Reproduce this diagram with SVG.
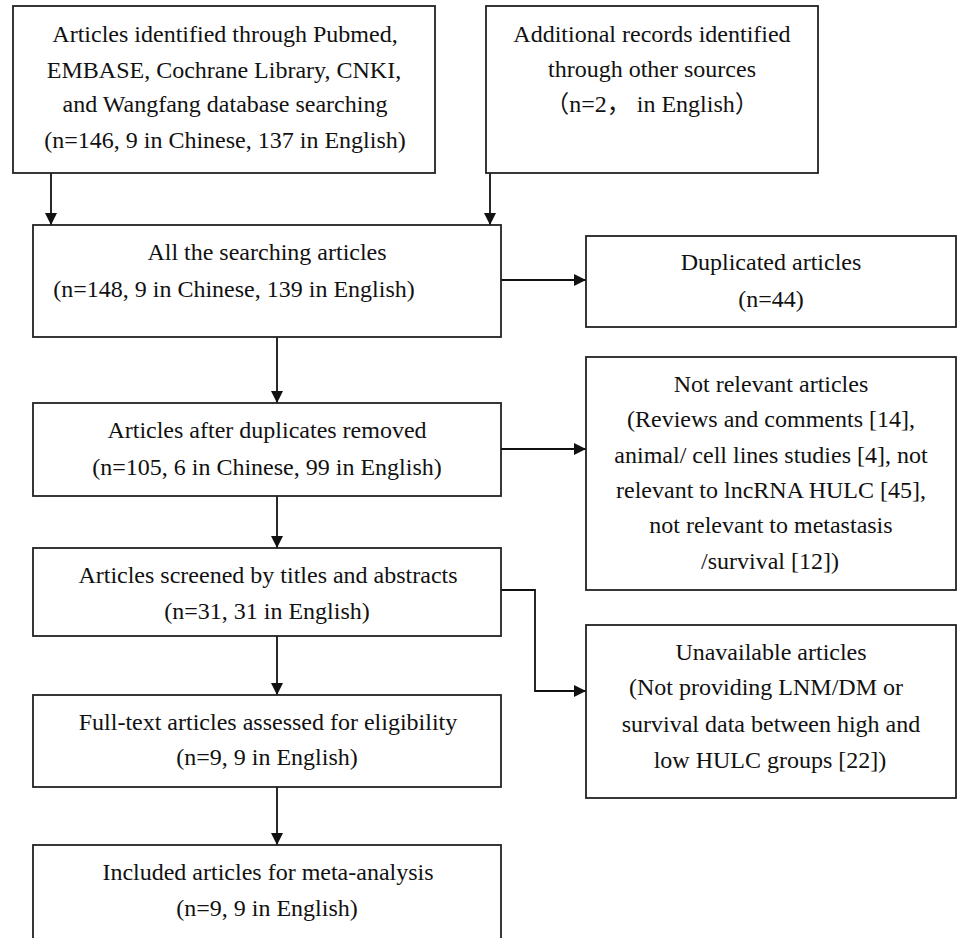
<svg xmlns="http://www.w3.org/2000/svg" width="958" height="938" viewBox="0 0 958 938">
<style>
.box{fill:#fff;stroke:#222;stroke-width:1.8}
.t{font-family:"Liberation Serif","Noto Sans CJK SC",serif;font-size:24px;fill:#111;text-anchor:middle}
.c{fill:none;stroke:#111;stroke-width:1.8}
</style>
<defs>
<marker id="ah" viewBox="0 0 12 12" refX="12" refY="6" markerWidth="12" markerHeight="12" markerUnits="userSpaceOnUse" orient="auto">
<path d="M0,0 L12,6 L0,12 Z" fill="#111"/>
</marker>
</defs>
<rect width="958" height="938" fill="#fff"/>
<g id="connectors">
<path class="c" d="M51,173 V225" marker-end="url(#ah)"/>
<path class="c" d="M490,173 V225" marker-end="url(#ah)"/>
<path class="c" d="M501,280 H586" marker-end="url(#ah)"/>
<path class="c" d="M277,337 V403" marker-end="url(#ah)"/>
<path class="c" d="M501,449 H586" marker-end="url(#ah)"/>
<path class="c" d="M277,496 V548" marker-end="url(#ah)"/>
<path class="c" d="M501,590 H535 V691 H586" marker-end="url(#ah)"/>
<path class="c" d="M277,636 V695" marker-end="url(#ah)"/>
<path class="c" d="M277,787 V845" marker-end="url(#ah)"/>
</g>
<g id="n1">
<rect class="box" x="13" y="6" width="422" height="167"/>
<text class="t" x="225" y="42">Articles identified through Pubmed,</text>
<text class="t" x="224" y="78">EMBASE, Cochrane Library, CNKI,</text>
<text class="t" x="225" y="112">and Wangfang database searching</text>
<text class="t" x="225" y="148">(n=146, 9 in Chinese, 137 in English)</text>
</g>
<g id="n2">
<rect class="box" x="486" y="6" width="332" height="167"/>
<text class="t" x="652" y="42">Additional records identified</text>
<text class="t" x="652" y="77">through other sources</text>
<text class="t" x="652" y="112">（n=2， in English）</text>
</g>
<g id="n3">
<rect class="box" x="33" y="225" width="468" height="112"/>
<text class="t" x="267" y="260">All the searching articles</text>
<text class="t" x="234" y="297">(n=148, 9 in Chinese, 139 in English)</text>
</g>
<g id="n4">
<rect class="box" x="586" y="236" width="370" height="91"/>
<text class="t" x="771" y="270">Duplicated articles</text>
<text class="t" x="771" y="307">(n=44)</text>
</g>
<g id="n5">
<rect class="box" x="33" y="403" width="468" height="93"/>
<text class="t" x="267" y="438">Articles after duplicates removed</text>
<text class="t" x="267" y="475">(n=105, 6 in Chinese, 99 in English)</text>
</g>
<g id="n6">
<rect class="box" x="586" y="357" width="370" height="233"/>
<text class="t" x="771" y="392">Not relevant articles</text>
<text class="t" x="771" y="427">(Reviews and comments [14],</text>
<text class="t" x="771" y="463">animal/ cell lines studies [4], not</text>
<text class="t" x="771" y="498">relevant to lncRNA HULC [45],</text>
<text class="t" x="771" y="533">not relevant to metastasis</text>
<text class="t" x="770" y="569">/survival [12])</text>
</g>
<g id="n7">
<rect class="box" x="33" y="548" width="468" height="88"/>
<text class="t" x="268" y="583">Articles screened by titles and abstracts</text>
<text class="t" x="267" y="619">(n=31, 31 in English)</text>
</g>
<g id="n8">
<rect class="box" x="586" y="625" width="370" height="173"/>
<text class="t" x="771" y="660">Unavailable articles</text>
<text class="t" x="766" y="695">(Not providing LNM/DM or</text>
<text class="t" x="771" y="732">survival data between high and</text>
<text class="t" x="770" y="768">low HULC groups [22])</text>
</g>
<g id="n9">
<rect class="box" x="33" y="695" width="468" height="92"/>
<text class="t" x="268" y="730">Full-text articles assessed for eligibility</text>
<text class="t" x="267" y="765">(n=9, 9 in English)</text>
</g>
<g id="n10">
<rect class="box" x="33" y="845" width="468" height="110"/>
<text class="t" x="268" y="880">Included articles for meta-analysis</text>
<text class="t" x="267" y="916">(n=9, 9 in English)</text>
</g>
</svg>
